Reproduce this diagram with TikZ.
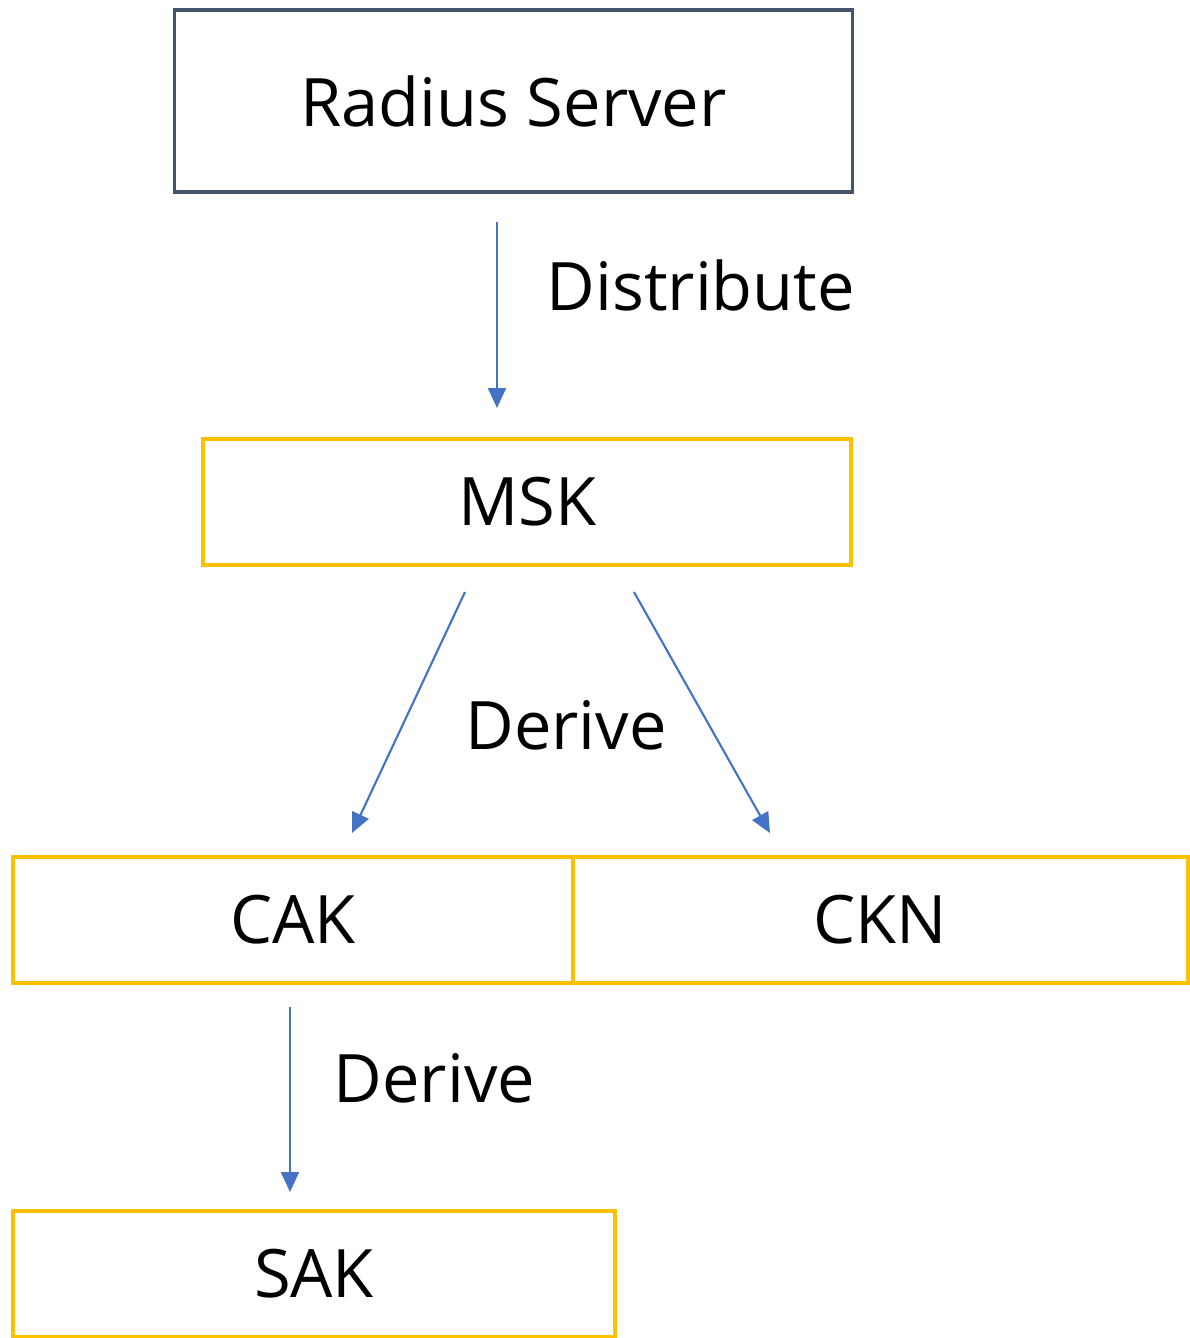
\documentclass[tikz,border=0pt]{standalone}
\usepackage{fontspec}
\setmainfont{Open Sans}
\usetikzlibrary{arrows.meta}
\definecolor{boxdark}{HTML}{44546A}
\definecolor{keyyellow}{HTML}{FFC000}
\definecolor{flowblue}{HTML}{4472C4}
\tikzset{
  srvbox/.style={draw=boxdark, line width=0.9pt, minimum width=6.77cm, minimum height=1.82cm, font=\fontsize{19}{23}\selectfont},
  keybox/.style={draw=keyyellow, line width=1.1pt, minimum height=1.26cm, font=\fontsize{19}{23}\selectfont},
  flow/.style={draw=flowblue, line width=0.6pt, -{Triangle[length=0.2cm, width=0.18cm]}},
  flowlabel/.style={font=\fontsize{19}{23}\selectfont, inner sep=0pt}
}

\begin{document}
\begin{tikzpicture}[x=0.01cm, y=-0.01cm]
    \useasboundingbox (0,0) rectangle (1190,1338);
        % boxes
        \node[srvbox] (rad) at (513.5,101) {Radius Server};
        \node[keybox, minimum width=6.48cm] (msk) at (527,502) {MSK};
        \node[keybox, minimum width=5.60cm] (cak) at (293,920) {CAK};
        \node[keybox, minimum width=6.15cm] (ckn) at (880.5,920) {CKN};
        \node[keybox, minimum width=6.02cm] (sak) at (314,1274) {SAK};
        % arrow ends
        \coordinate (dist0) at (497,222);
        \coordinate (dist1) at (497,408);
        \coordinate (left0) at (465,592);
        \coordinate (left1) at (352,833);
        \coordinate (right0) at (634,592);
        \coordinate (right1) at (770,833);
        \coordinate (down0) at (290,1007);
        \coordinate (down1) at (290,1192);
        \draw[flow] (dist0)--(dist1);
        \draw[flow] (left0)--(left1);
        \draw[flow] (right0)--(right1);
        \draw[flow] (down0)--(down1);
        % labels
        \node[flowlabel, anchor=west] (distlabel) at (546,285) {Distribute};
        \node[flowlabel] (derivelabel) at (566,725) {Derive};
        \node[flowlabel, anchor=west] (sakderive) at (333,1078) {Derive};
    \end{tikzpicture}
\end{document}
